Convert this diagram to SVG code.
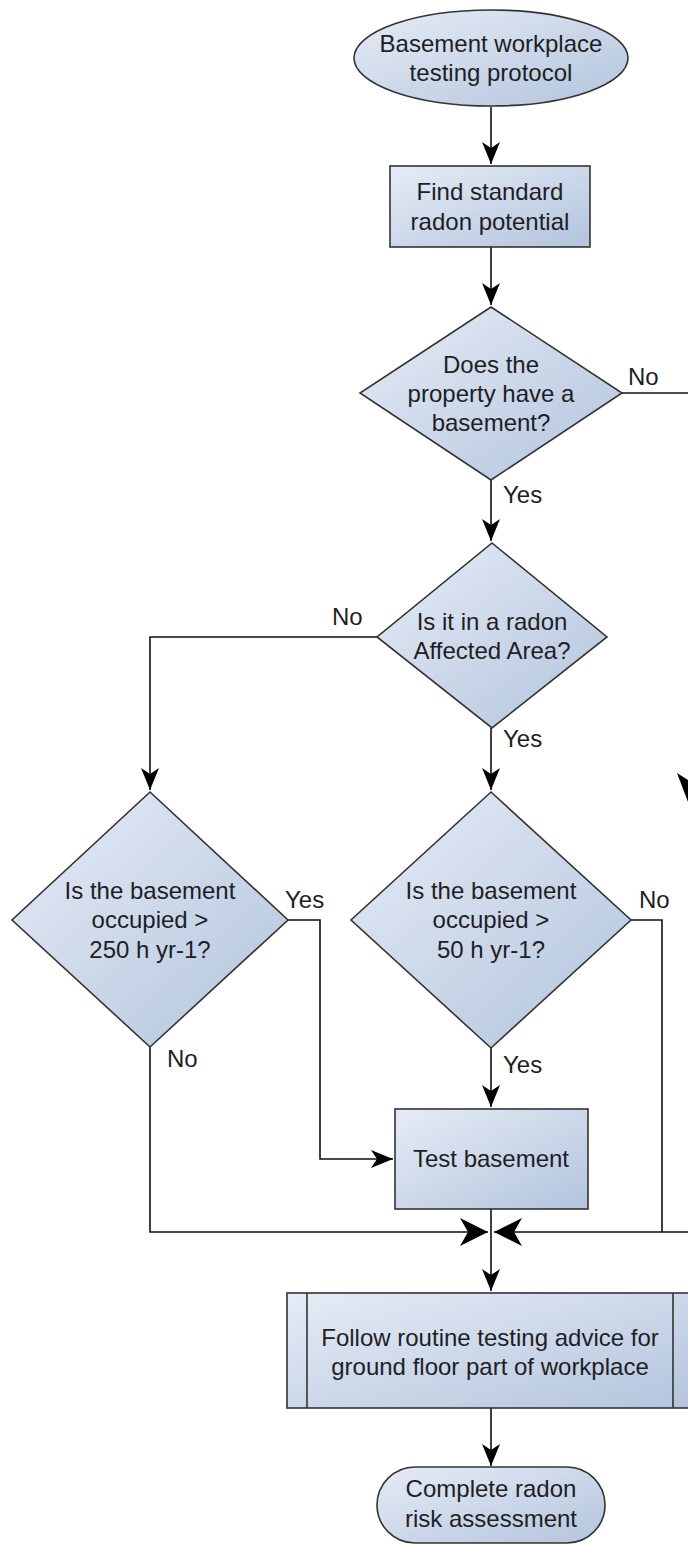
<svg xmlns="http://www.w3.org/2000/svg" width="688" height="1544" viewBox="0 0 688 1544">
<defs>
<linearGradient id="fill" x1="0" y1="0" x2="1" y2="1">
<stop offset="0" stop-color="#e6ecf6"/>
<stop offset="1" stop-color="#b3c4dd"/>
</linearGradient>
<marker id="arr" markerUnits="userSpaceOnUse" markerWidth="24" markerHeight="20" refX="22" refY="10" orient="auto" viewBox="0 0 24 20">
<path d="M22,10 L0,1 L6,10 L0,19 Z" fill="#000"/>
</marker>
<marker id="arrBig" markerUnits="userSpaceOnUse" markerWidth="30" markerHeight="30" refX="28" refY="15" orient="auto" viewBox="0 0 30 30">
<path d="M28,15 L0,1 L8,15 L0,29 Z" fill="#000"/>
</marker>
<style>
.shape{fill:url(#fill);stroke:#333;stroke-width:1.6}
.txt{font-family:"Liberation Sans",Arial,sans-serif;font-size:24px;fill:#1e1e24;text-anchor:middle}
.lbl{font-family:"Liberation Sans",Arial,sans-serif;font-size:24px;fill:#1e1e24}
.con{fill:none;stroke:#111;stroke-width:1.6}
</style>
</defs>

<g id="connectors">
<path class="con" d="M491,107 V164" marker-end="url(#arr)"/>
<path class="con" d="M491,247 V305" marker-end="url(#arr)"/>
<path class="con" d="M622,393 H688"/>
<path class="con" d="M491,480 V541" marker-end="url(#arr)"/>
<path class="con" d="M377,637 H150 V790" marker-end="url(#arr)"/>
<path class="con" d="M491,728 V790" marker-end="url(#arr)"/>
<path class="con" d="M288,920 H320 V1159 H393" marker-end="url(#arr)"/>
<path class="con" d="M491,1048 V1107" marker-end="url(#arr)"/>
<path class="con" d="M631,920 H662 V1232"/>
<path class="con" d="M150,1047 V1232 H488" marker-end="url(#arrBig)"/>
<path class="con" d="M688,1232 H494" marker-end="url(#arrBig)"/>
<path class="con" d="M491,1209 V1291" marker-end="url(#arr)"/>
<path class="con" d="M491,1408 V1466" marker-end="url(#arr)"/>
<polygon points="677,773 688,780 688,802" fill="#000"/>
<text class="lbl" x="628" y="385">No</text>
<text class="lbl" x="503" y="503">Yes</text>
<text class="lbl" x="332" y="625">No</text>
<text class="lbl" x="503" y="747">Yes</text>
<text class="lbl" x="285" y="908">Yes</text>
<text class="lbl" x="639" y="908">No</text>
<text class="lbl" x="167" y="1067">No</text>
<text class="lbl" x="503" y="1073">Yes</text>
</g>

<g id="start">
<ellipse class="shape" cx="491" cy="58" rx="137" ry="48"/>
<text class="txt" x="491" y="52">Basement workplace</text>
<text class="txt" x="491" y="81">testing protocol</text>
</g>

<g id="find">
<rect class="shape" x="390" y="166" width="200" height="81"/>
<text class="txt" x="490" y="200">Find standard</text>
<text class="txt" x="490" y="230">radon potential</text>
</g>

<g id="basement">
<polygon class="shape" points="491,307 622,393 491,480 360,393"/>
<text class="txt" x="491" y="373">Does the</text>
<text class="txt" x="491" y="402">property have a</text>
<text class="txt" x="491" y="431">basement?</text>
</g>

<g id="affected">
<polygon class="shape" points="492,543 607,637 492,728 377,637"/>
<text class="txt" x="492" y="630">Is it in a radon</text>
<text class="txt" x="492" y="659">Affected Area?</text>
</g>

<g id="occ250">
<polygon class="shape" points="150,792 288,920 150,1047 12,920"/>
<text class="txt" x="150" y="899">Is the basement</text>
<text class="txt" x="150" y="928">occupied &gt;</text>
<text class="txt" x="150" y="958">250 h yr-1?</text>
</g>

<g id="occ50">
<polygon class="shape" points="491,792 631,920 491,1048 351,920"/>
<text class="txt" x="491" y="899">Is the basement</text>
<text class="txt" x="491" y="928">occupied &gt;</text>
<text class="txt" x="491" y="958">50 h yr-1?</text>
</g>

<g id="test">
<rect class="shape" x="395" y="1109" width="193" height="100"/>
<text class="txt" x="491" y="1167">Test basement</text>
</g>

<g id="follow">
<rect class="shape" x="287" y="1293" width="408" height="115"/>
<line x1="307" y1="1293" x2="307" y2="1408" stroke="#333" stroke-width="1.6"/>
<line x1="673" y1="1293" x2="673" y2="1408" stroke="#333" stroke-width="1.6"/>
<text class="txt" x="490" y="1346">Follow routine testing advice for</text>
<text class="txt" x="490" y="1375">ground floor part of workplace</text>
</g>

<g id="end">
<rect class="shape" x="377" y="1467" width="228" height="76" rx="38" ry="38"/>
<text class="txt" x="491" y="1497">Complete radon</text>
<text class="txt" x="491" y="1527">risk assessment</text>
</g>
</svg>
